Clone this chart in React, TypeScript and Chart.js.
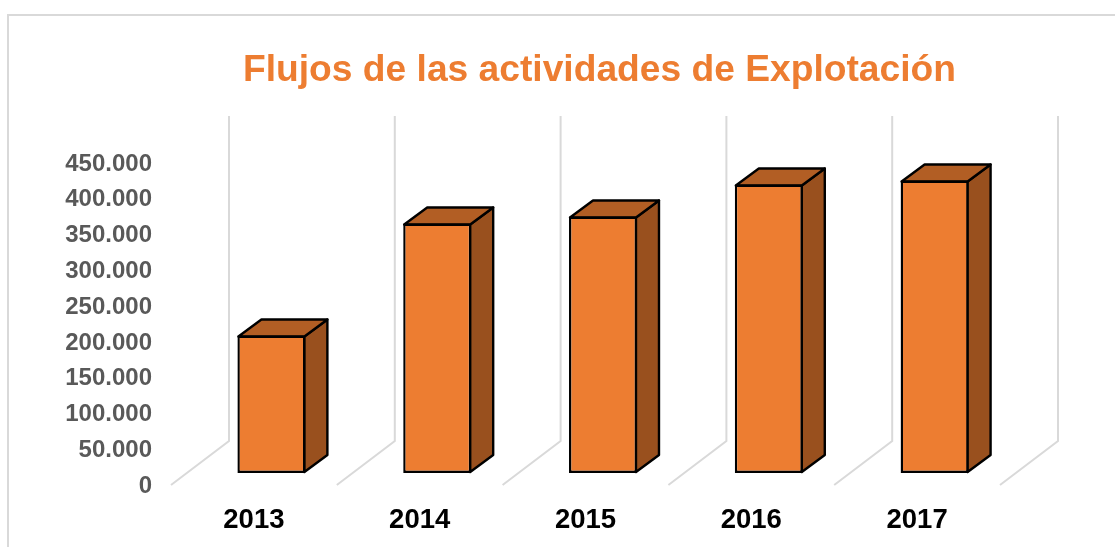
import React, { useEffect, useRef } from "react";
import { Chart, registerables } from "chart.js";

Chart.register(...registerables);

const categories = ["2013", "2014", "2015", "2016", "2017"];
const flujos = [192100, 348700, 358500, 403200, 408800];
const titleText = "Flujos de las actividades de Explotación";

const FONT = "'Liberation Sans', Arial, sans-serif";
const FRONT = "#ED7D31";
const TOP = "#B25E24";
const SIDE = "#99501E";
const GRID = "#D9D9D9";

// 3D projection used by the wall grid and by the bars
const WALL_DX = 58;
const WALL_DY = -44;
const BAR_SHIFT_X = 17.5;
const BAR_SHIFT_Y = -13;
const BAR_DX = 23;
const BAR_DY = -17;

const pseudo3d = {
  id: "pseudo3d",
  beforeDraw(chart: any) {
    const { ctx } = chart;
    ctx.save();
    ctx.strokeStyle = GRID;
    ctx.lineWidth = 2;
    ctx.beginPath();
    ctx.moveTo(8, 547);
    ctx.lineTo(8, 15);
    ctx.lineTo(1115, 15);
    ctx.stroke();
    ctx.restore();
  },
  afterLayout(chart: any) {
    // the title is centred over a span shifted to the right of the canvas centre
    chart.titleBlock.left = 84;
    chart.titleBlock.right = 1115;
  },
  beforeDatasetsDraw(chart: any) {
    const { ctx, scales } = chart;
    const x = scales.x;
    const y = scales.y;
    const step = x.getPixelForValue(1) - x.getPixelForValue(0);
    const floorY = y.getPixelForValue(0) - 1;
    const wallTop = y.getPixelForValue(450000) + WALL_DY - 4;

    ctx.save();
    ctx.strokeStyle = GRID;
    ctx.lineWidth = 2;
    for (let i = 0; i <= categories.length; i++) {
      const fx = x.getPixelForValue(0) - step / 2 + i * step;
      ctx.beginPath();
      ctx.moveTo(fx, floorY);
      ctx.lineTo(fx + WALL_DX, floorY + WALL_DY);
      ctx.lineTo(fx + WALL_DX, wallTop);
      ctx.stroke();
    }
    ctx.restore();

    ctx.save();
    ctx.translate(BAR_SHIFT_X, BAR_SHIFT_Y);
    const meta = chart.getDatasetMeta(0);
    ctx.strokeStyle = "#000000";
    ctx.lineWidth = 2.4;
    ctx.lineJoin = "round";
    meta.data.forEach((bar: any) => {
      const { x: cx, y: t0, base, width } = bar.getProps(["x", "y", "base", "width"]);
      const l = cx - width / 2 + 1;
      const r = cx + width / 2 - 1;
      const t = t0 + 1;
      const b = base - 1;
      ctx.fillStyle = SIDE;
      ctx.beginPath();
      ctx.moveTo(r, t);
      ctx.lineTo(r + BAR_DX, t + BAR_DY);
      ctx.lineTo(r + BAR_DX, b + BAR_DY);
      ctx.lineTo(r, b);
      ctx.closePath();
      ctx.fill();
      ctx.stroke();
      ctx.fillStyle = TOP;
      ctx.beginPath();
      ctx.moveTo(l, t);
      ctx.lineTo(l + BAR_DX, t + BAR_DY);
      ctx.lineTo(r + BAR_DX, t + BAR_DY);
      ctx.lineTo(r, t);
      ctx.closePath();
      ctx.fill();
      ctx.stroke();
    });
  },
  afterDatasetsDraw(chart: any) {
    chart.ctx.restore();
  },
};

export default function App() {
  const ref = useRef<HTMLCanvasElement>(null);
  useEffect(() => {
    const chart = new Chart(ref.current!, {
      type: "bar",
      data: {
        labels: categories,
        datasets: [
          {
            label: "Flujos",
            data: flujos,
            backgroundColor: FRONT,
            borderColor: "#000000",
            borderWidth: 2.4,
            borderSkipped: false,
            categoryPercentage: 1,
            barPercentage: 0.41,
          },
        ],
      },
      options: {
        responsive: false,
        animation: false,
        layout: { padding: { left: 0, right: 115, top: 0, bottom: 0 } },
        plugins: {
          legend: { display: false },
          tooltip: { enabled: false },
          title: {
            display: true,
            text: titleText,
            color: FRONT,
            font: { family: FONT, size: 37.2, weight: "bold", lineHeight: 1.2 },
            padding: { top: 48, bottom: 71.4 },
          },
        },
        scales: {
          x: {
            grid: { display: false, drawTicks: false },
            border: { display: false },
            ticks: {
              color: "#000000",
              font: { family: FONT, size: 27.5, weight: "bold" },
              padding: 18,
              maxRotation: 0,
            },
            afterFit(s: any) {
              s.height = 61;
            },
          },
          y: {
            min: 0,
            max: 450000,
            grid: { display: false, drawTicks: false },
            border: { display: false },
            ticks: {
              stepSize: 50000,
              color: "#595959",
              font: { family: FONT, size: 24, weight: "bold" },
              padding: 19,
              callback: (v: any) => Number(v).toLocaleString("es-ES", { useGrouping: "always" } as any),
            },
            afterFit(s: any) {
              s.width = 171;
            },
          },
        },
      },
      plugins: [pseudo3d],
    } as any);
    return () => chart.destroy();
  }, []);
  return (
    <canvas
      ref={ref}
      width={1115}
      height={547}
      style={{ position: "fixed", left: 0, top: 0, display: "block" }}
    />
  );
}
